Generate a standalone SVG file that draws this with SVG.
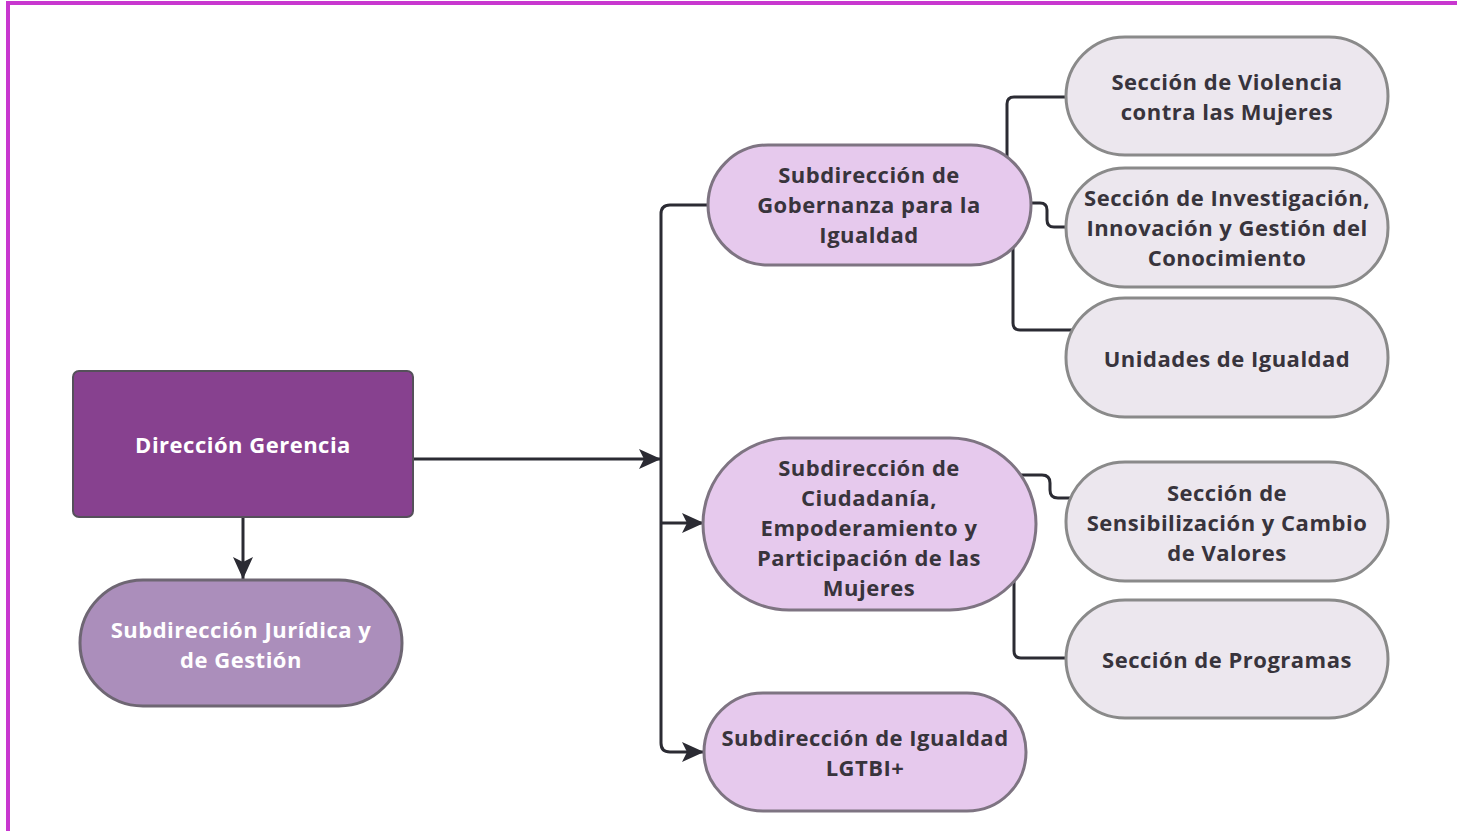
<svg xmlns="http://www.w3.org/2000/svg" width="1457" height="831" viewBox="0 0 1457 831">
<style>
.t{font-family:"Open Sans","Noto Sans","Liberation Sans",sans-serif;font-weight:700;font-size:22px;letter-spacing:0.5px;text-anchor:middle;fill:#38343c}
.w{fill:#ffffff}
.sub{fill:#e6c9ed;stroke:#7e7482;stroke-width:3}
.sec{fill:#ece7ee;stroke:#8a8a8a;stroke-width:3}
.c{fill:none;stroke:#2b2b33;stroke-width:3;stroke-linejoin:round}
</style>
<defs>
<marker id="ah" markerWidth="24" markerHeight="22" refX="22" refY="11" orient="auto" markerUnits="userSpaceOnUse">
<path d="M0,1 L22,11 L0,21 L5,11 Z" fill="#2b2b33"/>
</marker>
</defs>
<rect x="0" y="0" width="1457" height="831" fill="#ffffff"/>
<line x1="6" y1="3" x2="1457" y2="3" stroke="#c837cf" stroke-width="4"/>
<line x1="8" y1="1" x2="8" y2="831" stroke="#c837cf" stroke-width="4"/>
<g id="connectors">
<path class="c" d="M243,517 V579" marker-end="url(#ah)"/>
<path class="c" d="M413,459 H661" marker-end="url(#ah)"/>
<path class="c" d="M708,205 H670 Q661,205 661,214 V743 Q661,752 670,752 H704" marker-end="url(#ah)"/>
<path class="c" d="M661,523 H704" marker-end="url(#ah)"/>
<path class="c" d="M1007,160 V104 Q1007,97 1014,97 H1068"/>
<path class="c" d="M1029,203 H1040 Q1047,203 1047,210 V220 Q1047,227 1054,227 H1068"/>
<path class="c" d="M1013,245 V323 Q1013,330 1020,330 H1074"/>
<path class="c" d="M1018,475 H1042 Q1050,475 1050,483 V490 Q1050,498 1058,498 H1070"/>
<path class="c" d="M1014,575 V651 Q1014,658 1021,658 H1068"/>
</g>
<g id="direccion-gerencia">
<rect x="73" y="371" width="340" height="146" rx="6" fill="#87418f" stroke="#55505a" stroke-width="2"/>
<text class="t w" x="243" y="453">Dirección Gerencia</text>
</g>
<g id="subdir-juridica">
<rect x="80" y="580" width="322" height="126" rx="63" fill="#ab8ebb" stroke="#6e6673" stroke-width="3"/>
<text class="t w" x="241" y="638">Subdirección Jurídica y</text>
<text class="t w" x="241" y="668">de Gestión</text>
</g>
<g id="subdir-gobernanza">
<rect class="sub" x="708" y="145" width="323" height="120" rx="60"/>
<text class="t" x="869" y="183">Subdirección de</text>
<text class="t" x="869" y="213">Gobernanza para la</text>
<text class="t" x="869" y="243">Igualdad</text>
</g>
<g id="subdir-ciudadania">
<rect class="sub" x="703" y="438" width="333" height="172" rx="86"/>
<text class="t" x="869" y="476">Subdirección de</text>
<text class="t" x="869" y="506">Ciudadanía,</text>
<text class="t" x="869" y="536">Empoderamiento y</text>
<text class="t" x="869" y="566">Participación de las</text>
<text class="t" x="869" y="596">Mujeres</text>
</g>
<g id="subdir-lgtbi">
<rect class="sub" x="704" y="693" width="322" height="118" rx="59"/>
<text class="t" x="865" y="746">Subdirección de Igualdad</text>
<text class="t" x="865" y="776">LGTBI+</text>
</g>
<g id="sec-violencia">
<rect class="sec" x="1066" y="37" width="322" height="118" rx="59"/>
<text class="t" x="1227" y="90">Sección de Violencia</text>
<text class="t" x="1227" y="120">contra las Mujeres</text>
</g>
<g id="sec-investigacion">
<rect class="sec" x="1066" y="168" width="322" height="119" rx="59"/>
<text class="t" x="1227" y="206">Sección de Investigación,</text>
<text class="t" x="1227" y="236">Innovación y Gestión del</text>
<text class="t" x="1227" y="266">Conocimiento</text>
</g>
<g id="unidades-igualdad">
<rect class="sec" x="1066" y="298" width="322" height="119" rx="59"/>
<text class="t" x="1227" y="367">Unidades de Igualdad</text>
</g>
<g id="sec-sensibilizacion">
<rect class="sec" x="1066" y="462" width="322" height="119" rx="59"/>
<text class="t" x="1227" y="501">Sección de</text>
<text class="t" x="1227" y="531">Sensibilización y Cambio</text>
<text class="t" x="1227" y="561">de Valores</text>
</g>
<g id="sec-programas">
<rect class="sec" x="1066" y="600" width="322" height="118" rx="59"/>
<text class="t" x="1227" y="668">Sección de Programas</text>
</g>
</svg>
